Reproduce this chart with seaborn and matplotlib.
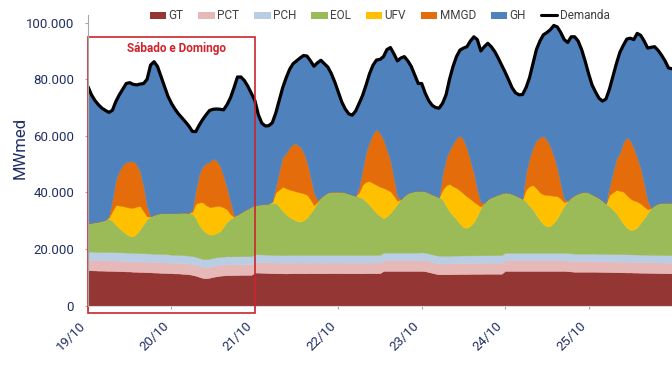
import numpy as np
import matplotlib
matplotlib.use("Agg")
import matplotlib.pyplot as plt
import matplotlib.transforms as mtransforms
from matplotlib.patches import Patch, Rectangle
from matplotlib.lines import Line2D
import seaborn as sns

# ---------------- data (hourly, 19/10 00h -> 26/10 00h) ----------------
day_labels = ["19/10", "20/10", "21/10", "22/10", "23/10", "24/10", "25/10"]
day_ticks = [0, 24, 48, 72, 96, 120, 144]
hours = np.arange(169)

demanda = [
    77400, 74500, 72500, 71000, 69800, 69000, 68300, 69000, 72100, 74500, 76500, 78500,
    78800, 78200, 78000, 78300, 78500, 80000, 85000, 86200, 84500, 81000, 77500, 74000,
    71500, 69500, 67800, 66400, 65000, 63500, 61600, 61500, 63800, 65800, 67500, 69000,
    69400, 69500, 69400, 69200, 71000, 73500, 77000, 80800, 80800, 79500, 77500, 75000,
    72500, 67500, 64500, 63500, 63600, 64600, 68000, 72500, 77000, 80500, 83500, 85500,
    86500, 87500, 88400, 88200, 86500, 84600, 85800, 86700, 85500, 84300, 82000, 79000,
    75500, 72000, 69500, 67800, 67300, 68800, 71500, 74300, 78000, 82000, 85000, 86800,
    87000, 88000, 90500, 91200, 89000, 86500, 87500, 88000, 86500, 84500, 81500, 78500,
    78500, 75100, 72500, 70800, 70000, 69800, 71500, 74500, 80000, 84500, 88000, 90300,
    91000, 91500, 93500, 95000, 94000, 90000, 91500, 92700, 91500, 89800, 87500, 85000,
    82500, 79800, 77000, 75200, 74500, 74600, 77000, 80500, 85500, 90500, 93500, 95700,
    96500, 97500, 99000, 98500, 96500, 94000, 93000, 95000, 95000, 93500, 90500, 86500,
    82000, 78000, 75500, 73300, 72300, 73000, 76500, 81000, 85500, 89500, 92000, 94200,
    94500, 94000, 96200, 95500, 93500, 91000, 91300, 91500, 90200, 88500, 86500, 84000,
    83700,
]

gt = [
    12500, 12500, 12450, 12400, 12400, 12350, 12300, 12300, 12250, 12200, 12200, 12100,
    12100, 12000, 12000, 11900, 11900, 11800, 11800, 11700, 11700, 11600, 11600, 11500,
    11500, 11400, 11400, 11300, 11200, 11100, 10900, 10600, 10200, 9800, 9700, 9900,
    10200, 10400, 10600, 10700, 10800, 10800, 10850, 10850, 10900, 10900, 10900, 10900,
    11700, 11700, 11650, 11600, 11550, 11500, 11500, 11450, 11450, 11400, 11450, 11500,
    11500, 11500, 11450, 11450, 11500, 11500, 11500, 11450, 11450, 11500, 11500, 11500,
    11500, 11500, 11450, 11450, 11450, 11450, 11450, 11450, 11500, 11500, 11500, 11500,
    11500, 12300, 12300, 12300, 12300, 12300, 12300, 12300, 12300, 12300, 12300, 12300,
    12300, 12200, 11900, 11600, 11300, 11100, 11100, 11100, 11100, 11150, 11150, 11200,
    11200, 11200, 11250, 11250, 11250, 11250, 11300, 11300, 11300, 11300, 11300, 11300,
    12300, 12300, 12300, 12300, 12300, 12300, 12300, 12300, 12300, 12300, 12300, 12300,
    12300, 12300, 12300, 12300, 12300, 12300, 12200, 12100, 12000, 12000, 12000, 12000,
    12000, 12000, 12000, 11950, 11950, 11900, 11900, 11850, 11850, 11800, 11800, 11750,
    11750, 11700, 11700, 11650, 11650, 11600, 11600, 11550, 11550, 11500, 11500, 11450,
    11450,
]

pct = [
    3650, 3650, 3650, 3650, 3650, 3650, 3700, 3700, 3700, 3700, 3700, 3700,
    3700, 3700, 3700, 3700, 3700, 3700, 3700, 3700, 3700, 3700, 3700, 3700,
    3700, 3700, 3750, 3750, 3800, 3800, 3850, 3850, 3900, 3900, 3900, 3900,
    3900, 3900, 3850, 3850, 3850, 3800, 3800, 3800, 3800, 3800, 3800, 3800,
    3750, 3750, 3750, 3750, 3750, 3750, 3750, 3750, 3750, 3750, 3750, 3750,
    3750, 3750, 3750, 3750, 3750, 3750, 3750, 3750, 3750, 3750, 3750, 3750,
    3750, 3750, 3750, 3750, 3750, 3750, 3750, 3750, 3750, 3750, 3750, 3750,
    3750, 3750, 3750, 3750, 3750, 3750, 3750, 3750, 3750, 3750, 3750, 3750,
    3850, 3850, 3850, 3850, 3850, 3850, 3850, 3850, 3850, 3850, 3850, 3850,
    3850, 3850, 3850, 3850, 3850, 3850, 3850, 3850, 3850, 3850, 3850, 3850,
    3750, 3750, 3750, 3750, 3750, 3750, 3750, 3750, 3750, 3750, 3750, 3750,
    3750, 3750, 3750, 3750, 3750, 3750, 3750, 3750, 3750, 3750, 3750, 3750,
    3750, 3750, 3750, 3750, 3750, 3750, 3750, 3750, 3750, 3750, 3750, 3750,
    3750, 3750, 3750, 3750, 3750, 3750, 3750, 3750, 3750, 3750, 3750, 3750,
    3750,
]

pch = [
    2950, 2950, 2950, 2950, 2950, 2950, 2950, 2950, 2950, 2950, 2950, 2950,
    2950, 2950, 2950, 2950, 2950, 2950, 2950, 2950, 2950, 2950, 2950, 2950,
    2800, 2800, 2800, 2800, 2800, 2800, 2800, 2800, 2800, 2800, 2800, 2800,
    2800, 2800, 2800, 2800, 2800, 2800, 2800, 2800, 2800, 2800, 2800, 2800,
    2700, 2700, 2700, 2700, 2700, 2700, 2700, 2700, 2700, 2700, 2700, 2700,
    2700, 2700, 2700, 2700, 2700, 2700, 2700, 2700, 2700, 2700, 2700, 2700,
    2700, 2700, 2700, 2700, 2700, 2700, 2700, 2700, 2700, 2700, 2700, 2700,
    2700, 2700, 2700, 2700, 2700, 2700, 2700, 2700, 2700, 2700, 2700, 2700,
    2700, 2700, 2700, 2700, 2700, 2700, 2700, 2700, 2700, 2700, 2700, 2700,
    2700, 2700, 2700, 2700, 2700, 2700, 2700, 2700, 2700, 2700, 2700, 2700,
    2650, 2650, 2650, 2650, 2650, 2650, 2650, 2650, 2650, 2650, 2650, 2650,
    2650, 2650, 2650, 2650, 2650, 2650, 2650, 2650, 2650, 2650, 2650, 2650,
    2650, 2650, 2650, 2650, 2650, 2650, 2650, 2650, 2650, 2650, 2650, 2650,
    2650, 2650, 2650, 2650, 2650, 2650, 2650, 2650, 2650, 2650, 2650, 2650,
    2650,
]

eol = [
    10000, 10200, 10450, 10700, 11000, 11350, 11850, 11050, 9600, 8550, 7450, 6550,
    5850, 5850, 6850, 8450, 10250, 12150, 13150, 13750, 14150, 14450, 14450, 14550,
    14700, 14800, 14850, 15050, 15100, 15100, 15050, 13750, 11600, 10300, 9400, 8500,
    8300, 8600, 9050, 10650, 12250, 13400, 13950, 14750, 15500, 16200, 16800, 17500,
    17350, 17550, 17700, 17850, 18100, 18350, 18350, 17100, 15600, 14450, 13400, 12650,
    12050, 11750, 12300, 13200, 14850, 16550, 18750, 20400, 21400, 22050, 22350, 22350,
    22350, 22350, 22100, 21700, 21300, 20900, 20600, 20000, 18850, 17650, 16150, 14750,
    13750, 12150, 12850, 14050, 15550, 17250, 18850, 20150, 21050, 21450, 21750, 21850,
    21800, 21650, 21450, 21150, 20950, 20650, 19950, 17650, 15650, 14200, 12800, 11250,
    9950, 9750, 10500, 11700, 14100, 16800, 18450, 19750, 20450, 20950, 21450, 21850,
    21300, 21200, 20800, 20200, 19700, 19100, 18100, 16600, 15300, 13300, 11500, 10100,
    9300, 9500, 10700, 12200, 14500, 16700, 18500, 19800, 20700, 21300, 21700, 21900,
    21600, 20900, 20300, 19650, 18750, 17800, 16800, 15750, 14450, 12600, 10800, 9450,
    8650, 8800, 9600, 11350, 12950, 14800, 16600, 17650, 18150, 18500, 18500, 18550,
    18550,
]

ufv = [
    0, 0, 0, 0, 0, 0, 300, 3400, 7000, 8000, 8900, 9600,
    10000, 10100, 9500, 8200, 4500, 900, 0, 0, 0, 0, 0, 0,
    0, 0, 0, 0, 0, 0, 500, 5000, 8000, 9700, 9700, 9700,
    9800, 9500, 8900, 6700, 4300, 1500, 0, 0, 0, 0, 0, 0,
    0, 0, 0, 0, 0, 500, 3700, 6000, 8500, 9200, 9700, 10100,
    10300, 10300, 9500, 8100, 4700, 1000, 0, 0, 0, 0, 0, 0,
    0, 0, 0, 0, 0, 0, 1500, 4900, 7000, 8400, 9200, 9950,
    10300, 10700, 9400, 7600, 4500, 1000, 0, 0, 0, 0, 0, 0,
    0, 0, 0, 0, 0, 0, 3400, 7200, 9700, 10300, 11100, 11700,
    11900, 11100, 9400, 7200, 3900, 400, 0, 0, 0, 0, 0, 0,
    0, 0, 0, 0, 0, 0, 4200, 6900, 8600, 9500, 9800, 10500,
    11100, 10800, 9400, 7800, 4600, 1100, 0, 0, 0, 0, 0, 0,
    0, 0, 0, 0, 0, 0, 4000, 6000, 8200, 9800, 11300, 11400,
    11000, 10300, 9100, 6600, 4000, 1200, 0, 0, 0, 0, 0, 0,
    0,
]

mmgd = [
    0, 0, 0, 0, 0, 0, 500, 4000, 9000, 12300, 14500, 15800,
    16400, 16400, 14900, 12000, 8500, 3500, 0, 0, 0, 0, 0, 0,
    0, 0, 0, 0, 0, 0, 800, 5000, 10000, 12800, 14800, 16000,
    17000, 16000, 14200, 11000, 7500, 4500, 500, 0, 0, 0, 0, 0,
    0, 0, 0, 0, 0, 0, 2000, 6500, 10500, 12300, 15000, 16500,
    16800, 16200, 14500, 11500, 8000, 4500, 500, 0, 0, 0, 0, 0,
    0, 0, 0, 0, 0, 0, 2000, 5500, 10500, 14000, 17500, 19700,
    19000, 17000, 14000, 10800, 6000, 1500, 0, 0, 0, 0, 0, 0,
    0, 0, 0, 0, 0, 0, 5500, 9500, 12000, 15000, 17500, 19500,
    19000, 17000, 13500, 10000, 5000, 1500, 0, 0, 0, 0, 0, 0,
    0, 0, 0, 0, 0, 0, 6000, 10000, 13300, 17000, 19500, 20600,
    19500, 17200, 14000, 9800, 5000, 1000, 0, 0, 0, 0, 0, 0,
    0, 0, 0, 0, 0, 0, 3000, 7000, 11000, 13500, 17500, 20500,
    20500, 18500, 15500, 12500, 8000, 3000, 0, 0, 0, 0, 0, 0,
    0,
]

series_names = ["GT", "PCT", "PCH", "EOL", "UFV", "MMGD", "GH"]
series_colors = ["#943634", "#E6B9B8", "#B9CDE5", "#9BBB59", "#FFC000", "#E46C0A", "#4F81BD"]

# GH (hydro) fills the remainder up to the demand
stack_vals = [np.array(v, dtype=float) for v in (gt, pct, pch, eol, ufv, mmgd)]
dem = np.array(demanda, dtype=float)
gh = dem - np.sum(stack_vals, axis=0)

# ---------------- style ----------------
sns.set_theme(style="white")
plt.rcParams["font.family"] = ["Roboto", "DejaVu Sans"]
navy = "#1F2E63"

fig = plt.figure(figsize=(6.72, 3.77), dpi=100)
fig.patch.set_facecolor("white")
ax = fig.add_axes([88 / 672, (377 - 305.7) / 377, 584 / 672, 290.7 / 377])

base = np.zeros(len(hours))
for vals, col in zip(stack_vals + [gh], series_colors):
    ax.fill_between(hours, base, base + vals, color=col, lw=0.3, edgecolor=col, zorder=2)
    base = base + vals

sns.lineplot(x=hours, y=dem, color="black", linewidth=2.3, ax=ax, legend=False, zorder=4)

ax.set_xlim(0, 168)
ax.set_ylim(0, 102700)
yt = [0, 20000, 40000, 60000, 80000, 100000]
ax.set_yticks(yt)
ax.set_yticklabels([f"{v:,}".replace(",", ".") for v in yt])
ax.set_xticks(day_ticks)
ax.set_xticklabels(day_labels, rotation=45, ha="right")
offset = mtransforms.ScaledTranslation(5 / 100, 0, fig.dpi_scale_trans)
for lab in ax.get_xticklabels():
    lab.set_transform(lab.get_transform() + offset)

ax.tick_params(axis="both", direction="out", length=2, width=0.8, color="#A6A6A6",
               labelcolor=navy, labelsize=9.5, bottom=True, left=True)
ax.tick_params(axis="y", pad=8)
ax.tick_params(axis="x", pad=8, labelsize=9.5)
ax.set_xlabel("")
ax.set_ylabel("MWmed", color=navy, fontsize=12)
ax.yaxis.set_label_coords(-0.104, 0.544)

for s in ("top", "right"):
    ax.spines[s].set_visible(False)
ax.spines["left"].set_color("#A6A6A6")
ax.spines["left"].set_linewidth(0.8)
ax.spines["bottom"].set_color("#D9D9D9")
ax.spines["bottom"].set_linewidth(0.8)
ax.spines["left"].set_zorder(6)

# weekend box
rect = Rectangle((0, -2470), 48, 94850 + 2470, fill=False, edgecolor="#C8262E",
                 lw=1.2, clip_on=False, zorder=5)
ax.add_patch(rect)
ax.text(25.5, 90960, "Sábado e Domingo", color="#D2232A", fontsize=8.5,
        fontweight="bold", ha="center", va="center", zorder=6)

# legend
handles = [Patch(facecolor=c, edgecolor="none") for c in series_colors]
handles.append(Line2D([0], [0], color="black", lw=2.2))
labels = series_names + ["Demanda"]
leg = fig.legend(handles, labels, loc="center", bbox_to_anchor=(0.565, 0.958), ncol=8,
                 frameon=False, fontsize=8.5, handlelength=1.4, handleheight=0.55,
                 handletextpad=0.2, columnspacing=1.25, borderaxespad=0)
for t in leg.get_texts():
    t.set_color("#404040")

fig.savefig("out.png", dpi=100, facecolor="white")
